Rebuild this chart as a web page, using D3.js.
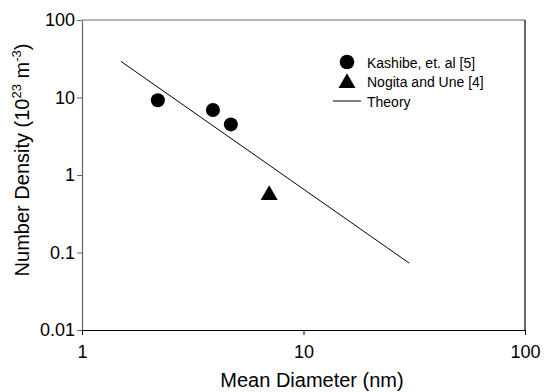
<!DOCTYPE html>
<html>
<head>
<meta charset="utf-8">
<script src="https://cdn.jsdelivr.net/npm/d3@7"></script>
<style>
  body { margin: 0; background: #fff; }
  text { font-family: "Liberation Sans", Arial, sans-serif; fill: #000; }
</style>
</head>
<body>
<div class="chart"></div>
<script>
// Data
var kashibeDiameter = [2.2, 3.9, 4.7];
var kashibeDensity = [9.2, 6.9, 4.5];
var nogitaDiameter = [7.0];
var nogitaDensity = [0.55];
var theoryDiameter = [1.5, 30];
var theoryDensity = [29.2, 0.073];
var xTicks = [1, 10, 100];
var yTicks = [0.01, 0.1, 1, 10, 100];
var legendLabels = ["Kashibe, et. al [5]", "Nogita and Une [4]", "Theory"];

var svgWidth = 545;
var svgHeight = 392;

var margin = { top: 20, right: 20, bottom: 62, left: 82 };
var width = 525 - margin.left;
var height = 330 - margin.top;

var svg = d3.select(".chart")
  .append("svg")
  .attr("width", svgWidth)
  .attr("height", svgHeight);

var chartGroup = svg.append("g")
  .attr("transform", `translate(${margin.left}, ${margin.top})`);

var xScale = d3.scaleLog().domain([1, 100]).range([0, width]);
var yScale = d3.scaleLog().domain([0.01, 100]).range([height, 0]);

// frame: top and left gray, bottom and right black
chartGroup.append("line")
  .attr("x1", 0).attr("x2", width).attr("y1", 0).attr("y2", 0)
  .attr("stroke", "#666").attr("stroke-width", 1.2);
chartGroup.append("line")
  .attr("x1", width).attr("x2", width).attr("y1", 0).attr("y2", height)
  .attr("stroke", "#000").attr("stroke-width", 1.2);

// axes
var bottomAxis = d3.axisBottom(xScale)
  .tickValues(xTicks)
  .tickFormat(d3.format("~g"))
  .tickSizeInner(5).tickSizeOuter(0).tickPadding(10);
var leftAxis = d3.axisLeft(yScale)
  .tickValues(yTicks)
  .tickFormat(d => String(d))
  .tickSizeInner(5).tickSizeOuter(0).tickPadding(2);

var xAxis = chartGroup.append("g")
  .attr("transform", `translate(0, ${height})`)
  .call(bottomAxis);
xAxis.select(".domain").attr("stroke", "#000").attr("stroke-width", 1.2);
xAxis.selectAll("line").attr("stroke", "#000");
xAxis.selectAll("text").attr("font-size", 18).style("font-family", "Liberation Sans, Arial, sans-serif");

var yAxis = chartGroup.append("g").call(leftAxis);
yAxis.select(".domain").attr("stroke", "#666").attr("stroke-width", 1.2);
yAxis.selectAll("line").attr("stroke", "#666");
yAxis.selectAll("text").attr("font-size", 18).style("font-family", "Liberation Sans, Arial, sans-serif");

// theory line
var theory = theoryDiameter.map((d, i) => [d, theoryDensity[i]]);
chartGroup.append("path")
  .datum(theory)
  .attr("fill", "none")
  .attr("stroke", "#000")
  .attr("stroke-width", 1)
  .attr("d", d3.line().x(d => xScale(d[0])).y(d => yScale(d[1])));

// Kashibe circles
chartGroup.selectAll("circle.kashibe")
  .data(kashibeDiameter.map((d, i) => [d, kashibeDensity[i]]))
  .enter()
  .append("circle")
  .attr("class", "kashibe")
  .attr("cx", d => xScale(d[0]))
  .attr("cy", d => yScale(d[1]))
  .attr("r", 7)
  .attr("fill", "#000");

// Nogita triangles
var triangle = d3.symbol().type(d3.symbolTriangle).size(125);
chartGroup.selectAll("path.nogita")
  .data(nogitaDiameter.map((d, i) => [d, nogitaDensity[i]]))
  .enter()
  .append("path")
  .attr("class", "nogita")
  .attr("d", triangle)
  .attr("transform", d => `translate(${xScale(d[0])}, ${yScale(d[1])})`)
  .attr("fill", "#000");

// legend
var legend = svg.append("g").attr("transform", "translate(347, 62)");
legend.append("circle").attr("cx", 0).attr("cy", 0).attr("r", 7.3).attr("fill", "#000");
legend.append("path").attr("d", triangle).attr("transform", "translate(0, 21)").attr("fill", "#000");
legend.append("line")
  .attr("x1", -14).attr("x2", 14).attr("y1", 39).attr("y2", 39)
  .attr("stroke", "#000").attr("stroke-width", 1);
legend.selectAll("text.leg")
  .data(legendLabels)
  .enter()
  .append("text")
  .attr("class", "leg")
  .attr("x", 20)
  .attr("y", (d, i) => 5.5 + i * 19.5)
  .attr("font-size", 14)
  .text(d => d);

// axis titles
svg.append("text")
  .attr("x", 312)
  .attr("y", 387)
  .attr("text-anchor", "middle")
  .attr("font-size", 20)
  .text("Mean Diameter (nm)");

var yTitle = svg.append("text")
  .attr("transform", "translate(28.5, 160) rotate(-90)")
  .attr("text-anchor", "middle")
  .attr("font-size", 20);
yTitle.append("tspan").text("Number Density (10");
yTitle.append("tspan").attr("font-size", 13).attr("dy", -8).text("23");
yTitle.append("tspan").attr("dy", 8).text(" m");
yTitle.append("tspan").attr("font-size", 13).attr("dy", -8).text("-3");
yTitle.append("tspan").attr("dy", 8).text(")");
</script>
</body>
</html>
